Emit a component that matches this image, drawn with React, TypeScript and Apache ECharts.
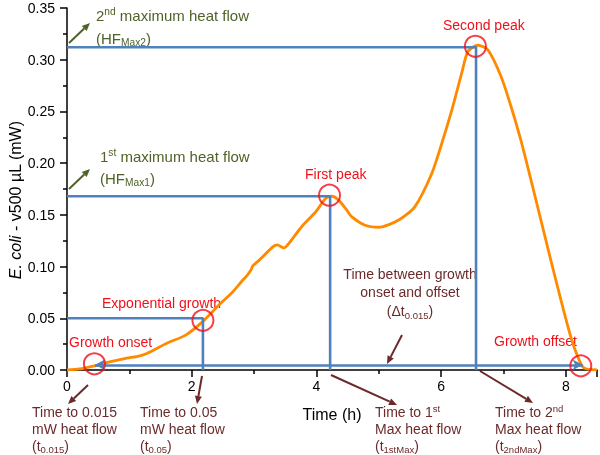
import React, { useEffect, useRef } from "react";
import * as echarts from "echarts";

// ---- data ----
const curveTime = [0, 0.2, 0.44, 0.7, 0.96, 1.12, 1.28, 1.6, 1.91, 2.18, 2.44, 2.66, 2.82, 2.87, 2.95, 2.98, 3.08, 3.3, 3.37, 3.48, 3.56, 3.77, 3.99, 4.15, 4.25, 4.36, 4.47, 4.57, 4.78, 5.0, 5.32, 5.58, 5.85, 6.01, 6.17, 6.33, 6.43, 6.59, 6.75, 6.96, 7.12, 7.28, 7.44, 7.6, 7.76, 7.92, 8.08, 8.19, 8.29, 8.5];
const curveHeat = [0, 0.001, 0.004, 0.008, 0.0115, 0.013, 0.016, 0.0258, 0.034, 0.047, 0.063, 0.0757, 0.087, 0.09, 0.0967, 0.1006, 0.106, 0.119, 0.121, 0.118, 0.1225, 0.139, 0.153, 0.166, 0.168, 0.164, 0.156, 0.148, 0.14, 0.138, 0.145, 0.158, 0.19, 0.219, 0.251, 0.287, 0.308, 0.314, 0.3095, 0.284, 0.255, 0.222, 0.184, 0.145, 0.106, 0.068, 0.032, 0.013, 0.002, 0.0];

const markerTimes = [2.18, 4.22, 6.56]; // t0.05, t1stMax, t2ndMax
const markerLevels = [0.05, 0.168, 0.312]; // 0.05 mW, HFMax1, HFMax2
const baselineLevel = 0.005;
const onsetTime = 0.45;
const offsetTime = 8.27;

const circleTime = [0.44, 2.18, 4.21, 6.55, 8.24];
const circleHeat = [0.006, 0.048, 0.169, 0.313, 0.004];

const xTicks = [0, 2, 4, 6, 8];
const yTicks = [0, 0.05, 0.1, 0.15, 0.2, 0.25, 0.3, 0.35];

const FONT = "'Liberation Sans', Arial, Helvetica, sans-serif";
const GREEN = "#4f6228";
const MAROON = "#6b2a2a";
const RED = "#f0101a";
const BLUE = "#4f81bd";
const ORANGE = "#ff8a00";

function arrow(x1: number, y1: number, x2: number, y2: number, color: string) {
  const dx = x2 - x1;
  const dy = y2 - y1;
  const len = Math.sqrt(dx * dx + dy * dy);
  const ux = dx / len;
  const uy = dy / len;
  const L = 8;
  const W = 7;
  const bx = x2 - ux * L;
  const by = y2 - uy * L;
  const px = -uy * (W / 2);
  const py = ux * (W / 2);
  return {
    type: "group",
    children: [
      { type: "line", shape: { x1, y1, x2: bx, y2: by }, style: { stroke: color, lineWidth: 2 } },
      {
        type: "polygon",
        shape: { points: [[x2, y2], [bx + px, by + py], [bx - px, by - py]] },
        style: { fill: color },
      },
    ],
  };
}

function richStyles(size: number, color: string, lh: number) {
  return {
    n: { fontSize: size, fontFamily: FONT, fill: color, color, lineHeight: lh },
    sup: { fontSize: size * 0.68, fontFamily: FONT, fill: color, color, lineHeight: lh * 0.6, verticalAlign: "top" },
    sub: { fontSize: size * 0.68, fontFamily: FONT, fill: color, color, lineHeight: lh * 0.62, verticalAlign: "bottom" },
    i: { fontSize: size, fontFamily: FONT, fill: color, color, lineHeight: lh, fontStyle: "italic" },
  };
}

function rtext(x: number, y: number, text: string, size: number, color: string, lh: number, align = "left", vAlign = "middle", rotation = 0) {
  return {
    type: "text",
    x,
    y,
    rotation,
    style: {
      text,
      align,
      verticalAlign: vAlign,
      fill: color,
      font: `${size}px ${FONT}`,
      rich: richStyles(size, color, lh),
    },
  };
}

export default function App() {
  const ref = useRef<HTMLDivElement>(null);
  useEffect(() => {
    if (!ref.current) return;
    const chart = echarts.init(ref.current, undefined, { renderer: "svg" });
    const curve = curveTime.map((t, i) => [t, curveHeat[i]]);
    const lSeries = markerTimes.map((t, i) => ({
      type: "line",
      data: [[0, markerLevels[i]], [t, markerLevels[i]], [t, 0]],
      showSymbol: false,
      symbol: "none",
      lineStyle: { color: BLUE, width: 2.6 },
      z: 3,
      silent: true,
    }));
    const option: any = {
      animation: false,
      grid: { left: 67, right: 1, top: 8, bottom: 85, containLabel: false },
      xAxis: {
        type: "value",
        min: 0,
        max: 8.5,
        interval: 2,
        name: "Time (h)",
        nameLocation: "middle",
        nameGap: 36,
        nameTextStyle: { fontSize: 16, color: "#000", fontFamily: FONT },
        axisLine: { show: true, onZero: false, lineStyle: { color: "#000", width: 1.5 } },
        axisTick: { show: true, inside: false, length: 7, lineStyle: { color: "#000", width: 1.5 } },
        minorTick: { show: true, splitNumber: 2, length: 4, lineStyle: { color: "#000", width: 1.5 } },
        axisLabel: {
          fontSize: 14,
          color: "#000",
          fontFamily: FONT,
          margin: 9,
          formatter: (v: number) => (xTicks.includes(v) ? String(v) : ""),
        },
        splitLine: { show: false },
      },
      yAxis: {
        type: "value",
        min: 0,
        max: 0.35,
        interval: 0.05,
        axisLine: { show: true, onZero: false, lineStyle: { color: "#000", width: 1.5 } },
        axisTick: { show: true, inside: false, length: 7, lineStyle: { color: "#000", width: 1.5 } },
        minorTick: { show: true, splitNumber: 2, length: 4, lineStyle: { color: "#000", width: 1.5 } },
        axisLabel: {
          fontSize: 14,
          color: "#000",
          fontFamily: FONT,
          margin: 12,
          formatter: (v: number) => {
            const m = yTicks.find((t) => Math.abs(t - v) < 1e-9);
            return m === undefined ? "" : m.toFixed(2);
          },
        },
        splitLine: { show: false },
      },
      series: [
        {
          type: "line",
          data: curve,
          smooth: 0.25,
          showSymbol: false,
          symbol: "none",
          lineStyle: { color: ORANGE, width: 2.8 },
          z: 2,
          silent: true,
        },
        ...lSeries,
        {
          type: "line",
          data: [],
          silent: true,
          markLine: {
            silent: true,
            symbol: ["arrow", "arrow"],
            symbolSize: [8, 10],
            label: { show: false },
            lineStyle: { color: BLUE, width: 2.6, type: "solid" },
            data: [[{ coord: [onsetTime, baselineLevel] }, { coord: [offsetTime, baselineLevel] }]],
          },
          z: 3,
        },
        {
          type: "scatter",
          data: circleTime.map((t, i) => [t, circleHeat[i]]),
          symbol: "circle",
          symbolSize: 21,
          itemStyle: { color: "rgba(0,0,0,0)", borderColor: RED, borderWidth: 2 },
          z: 5,
          silent: true,
        },
      ],
      graphic: [
        rtext(15, 200, "{i|E. coli}{n| - v500 µL (mW)}", 16, "#000", 20, "center", "middle", Math.PI / 2),
        // green annotations
        rtext(96, 15, "{n|2}{sup|nd}{n| maximum heat flow}", 15, GREEN, 18),
        rtext(96, 38, "{n|(HF}{sub|Max2}{n|)}", 15, GREEN, 18),
        rtext(100, 156, "{n|1}{sup|st}{n| maximum heat flow}", 15, GREEN, 18),
        rtext(100, 178, "{n|(HF}{sub|Max1}{n|)}", 15, GREEN, 18),
        arrow(69, 43, 90, 23, GREEN),
        arrow(69, 189, 90, 169, GREEN),
        // red labels
        rtext(69, 342, "{n|Growth onset}", 14, RED, 17),
        rtext(102, 303, "{n|Exponential growth}", 14, RED, 17),
        rtext(305, 174, "{n|First peak}", 14, RED, 17),
        rtext(443, 25, "{n|Second peak}", 14, RED, 17),
        rtext(494, 341, "{n|Growth offset}", 14, RED, 17),
        // maroon annotations
        rtext(410, 264.5, "{n|Time between growth}\n{n|onset and offset}\n{n|(Δt}{sub|0.015}{n|)}", 14, MAROON, 18.5, "center", "top"),
        rtext(32, 403, "{n|Time to 0.015}\n{n|mW heat flow}\n{n|(t}{sub|0.015}{n|)}", 14, MAROON, 17, "left", "top"),
        rtext(140, 403, "{n|Time to 0.05}\n{n|mW heat flow}\n{n|(t}{sub|0.05}{n|)}", 14, MAROON, 17, "left", "top"),
        rtext(375, 403, "{n|Time to 1}{sup|st}\n{n|Max heat flow}\n{n|(t}{sub|1stMax}{n|)}", 14, MAROON, 17, "left", "top"),
        rtext(495, 403, "{n|Time to 2}{sup|nd}\n{n|Max heat flow}\n{n|(t}{sub|2ndMax}{n|)}", 14, MAROON, 17, "left", "top"),
        arrow(88, 385, 68, 404, MAROON),
        arrow(202, 376, 197, 404, MAROON),
        arrow(331, 375, 397, 405, MAROON),
        arrow(480, 371, 533, 403, MAROON),
        arrow(402, 335, 387, 364, MAROON),
      ],
    };
    chart.setOption(option);
    return () => chart.dispose();
  }, []);
  return <div ref={ref} style={{ position: "fixed", left: 0, top: 0, width: 600, height: 455 }} />;
}
